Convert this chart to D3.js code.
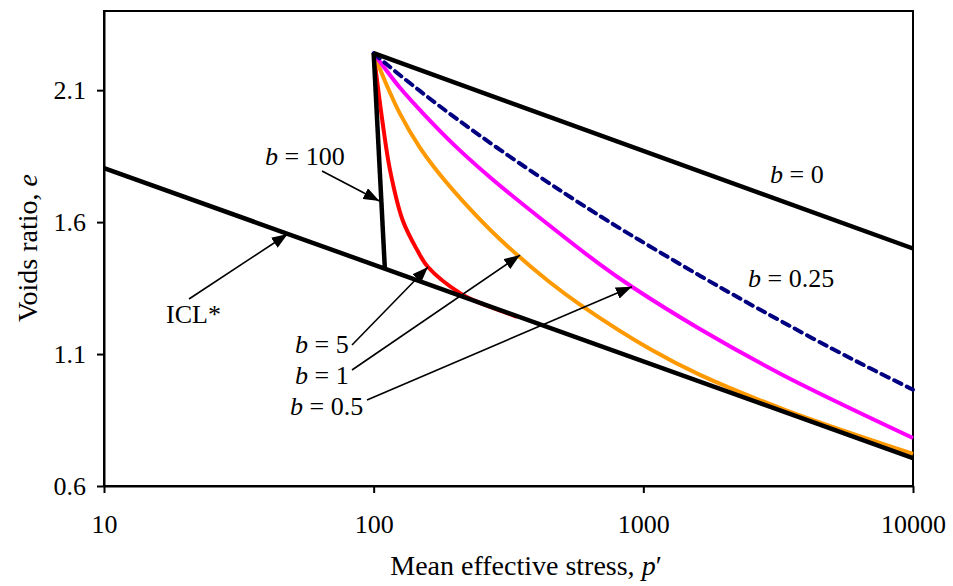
<!DOCTYPE html>
<html>
<head>
<meta charset="utf-8">
<script src="https://cdn.jsdelivr.net/npm/d3@7/dist/d3.min.js"></script>
<style>
  html, body { margin: 0; padding: 0; background: #fff; }
  svg { display: block; }
  text { font-family: "Liberation Serif", "Times New Roman", serif; fill: #000; }
</style>
</head>
<body>
<svg id="chart" width="953" height="586"></svg>
<script>
// Axis ticks
const pressureTicks = [10, 100, 1000, 10000];
const voidTicks = [0.6, 1.1, 1.6, 2.1];

// Isotropic compression line (ICL*)
const iclP = [10, 10000];
const iclE = [1.805, 0.706];

// b = 0
const b0P = [100, 10000];
const b0E = [2.24, 1.50];

// b = 100 (almost vertical drop to ICL*)
const b100P = [100, 110];
const b100E = [2.24, 1.425];

// b = 5 (red)
const b5P = [100, 108, 115, 128, 145, 159, 209, 250, 300, 340];
const b5E = [2.24, 1.975, 1.797, 1.608, 1.494, 1.43, 1.331, 1.292, 1.262, 1.241];

// b = 1 (orange)
const b1P = [100, 112, 125, 148, 173, 228, 294, 450, 597, 1059, 1622, 3406, 10000];
const b1E = [2.24, 2.117, 2.012, 1.884, 1.790, 1.649, 1.535, 1.372, 1.280, 1.119, 1.021, 0.886, 0.722];

// b = 0.5 (magenta)
const b05P = [100, 125, 150, 200, 270, 403, 690, 907, 1620, 3300, 10000];
const b05E = [2.24, 2.11, 2.02, 1.89, 1.77, 1.625, 1.44, 1.355, 1.195, 1.02, 0.782];

// b = 0.25 (navy, dashed)
const b025P = [100, 112, 148, 204, 300, 500, 770, 970, 1620, 2400, 3400, 5000, 7000, 10000];
const b025E = [2.24, 2.197, 2.098, 1.99, 1.868, 1.715, 1.593, 1.531, 1.397, 1.298, 1.213, 1.121, 1.044, 0.965];

const svg = d3.select("#chart");

const x = d3.scaleLog().domain([10, 10000]).range([104, 913]);
const y = d3.scaleLinear().domain([0.6, 2.4]).range([486, 11]);

const zip = (ps, es) => ps.map((p, i) => [p, es[i]]);
const line = d3.line().x(d => x(d[0])).y(d => y(d[1])).curve(d3.curveCatmullRom.alpha(0.5));
const straight = d3.line().x(d => x(d[0])).y(d => y(d[1]));

// Frame
svg.append("rect")
  .attr("x", x(10)).attr("y", y(2.4))
  .attr("width", x(10000) - x(10)).attr("height", y(0.6) - y(2.4))
  .attr("fill", "none").attr("stroke", "#000").attr("stroke-width", 2);

// Axes
const yAxis = d3.axisLeft(y).tickValues(voidTicks).tickFormat(d3.format(".1f"))
  .tickSize(7).tickSizeOuter(0).tickPadding(11);
const xAxis = d3.axisBottom(x).tickValues(pressureTicks).tickFormat(d => String(d))
  .tickSize(7).tickSizeOuter(0).tickPadding(22);

const gy = svg.append("g").attr("transform", `translate(${x(10)},0)`).call(yAxis);
const gx = svg.append("g").attr("transform", `translate(0,${y(0.6)})`).call(xAxis);
[gx, gy].forEach(g => {
  g.select(".domain").attr("stroke", "#000").attr("stroke-width", 2);
  g.selectAll(".tick line").attr("stroke", "#000").attr("stroke-width", 2);
  g.selectAll(".tick text")
    .style("font-family", "'Liberation Serif', 'Times New Roman', serif")
    .style("font-size", "26px").attr("fill", "#000");
});

// Axis titles
const xt = svg.append("text").attr("x", 526).attr("y", 575)
  .attr("text-anchor", "middle").style("font-size", "28px");
xt.append("tspan").text("Mean effective stress,  ");
xt.append("tspan").style("font-style", "italic").text("p");
xt.append("tspan").text("′");

const yt = svg.append("text").attr("transform", "translate(37,248) rotate(-90)")
  .attr("text-anchor", "middle").style("font-size", "28px");
yt.append("tspan").text("Voids ratio, ");
yt.append("tspan").style("font-style", "italic").text("e");

// Curves
const curves = [
  { p: b5P, e: b5E, color: "#ff0000", dash: null },
  { p: b1P, e: b1E, color: "#ff9900", dash: null },
  { p: b05P, e: b05E, color: "#ff00ff", dash: null },
  { p: b025P, e: b025E, color: "#000080", dash: "8,6" }
];
curves.forEach(c => {
  svg.append("path")
    .attr("d", line(zip(c.p, c.e)))
    .attr("fill", "none").attr("stroke", c.color).attr("stroke-width", 4)
    .attr("stroke-dasharray", c.dash)
    .attr("stroke-linecap", c.dash ? "round" : "butt");
});

// Black straight lines
[[iclP, iclE], [b0P, b0E], [b100P, b100E]].forEach(([p, e]) => {
  svg.append("path")
    .attr("d", straight(zip(p, e)))
    .attr("fill", "none").attr("stroke", "#000").attr("stroke-width", 4.5);
});

// Arrow head
svg.append("defs").append("marker")
  .attr("id", "arrow").attr("viewBox", "0 0 16 12")
  .attr("refX", 16).attr("refY", 6)
  .attr("markerWidth", 16).attr("markerHeight", 12)
  .attr("markerUnits", "userSpaceOnUse")
  .attr("orient", "auto")
  .append("path").attr("d", "M0,0 L16,6 L0,12 Z").attr("fill", "#000");

// Annotations: label text, label position, arrow start, arrow target (data coords)
const labels = [
  { pre: "b", post: " = 100", lx: 265, ly: 165, from: [322, 171], to: [105, 1.68] },
  { pre: "b", post: " = 0", lx: 770, ly: 183, from: null, to: null },
  { pre: "b", post: " = 0.25", lx: 748, ly: 287, from: null, to: null },
  { pre: "", post: "ICL*", lx: 166, ly: 323, from: [189, 299], to: [48, 1.555] },
  { pre: "b", post: " = 5", lx: 295, ly: 353, from: [352, 345], to: [159, 1.43] },
  { pre: "b", post: " = 1", lx: 295, ly: 384, from: [352, 370], to: [349, 1.475] },
  { pre: "b", post: " = 0.5", lx: 290, ly: 415, from: [367, 400], to: [907, 1.355] }
];
labels.forEach(l => {
  const t = svg.append("text").attr("x", l.lx).attr("y", l.ly).style("font-size", "26px");
  if (l.pre) t.append("tspan").style("font-style", "italic").text(l.pre);
  t.append("tspan").text(l.post);
  if (l.from) {
    svg.append("line")
      .attr("x1", l.from[0]).attr("y1", l.from[1])
      .attr("x2", x(l.to[0])).attr("y2", y(l.to[1]))
      .attr("stroke", "#000").attr("stroke-width", 1.6)
      .attr("marker-end", "url(#arrow)");
  }
});
</script>
</body>
</html>
